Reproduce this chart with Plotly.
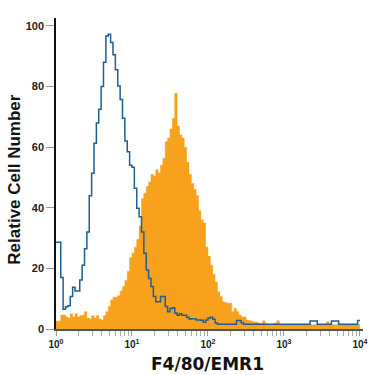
import numpy as np
import plotly.graph_objects as go

# 128 log-spaced channels over 10^0 .. 10^4
n_bins = 128
decades = 4.0

# Blue (isotype/control) histogram, relative cell number per channel
control_counts = [
    28.6, 28.6, 17.0, 6.5, 7.3, 7.7, 10.7, 13.8, 12.5, 12.5,
    16.2, 21.0, 26.5, 32.0, 44.0, 51.4, 61.3, 68.0, 72.5, 80.0,
    88.0, 96.7, 97.2, 94.5, 90.5, 85.5, 80.2, 75.7, 69.5, 62.0,
    58.5, 54.0, 53.4, 46.4, 39.8, 37.0, 32.0, 25.0, 19.5, 16.7,
    14.0, 10.7, 9.0, 9.0, 10.7, 10.7, 7.4, 5.7, 6.8, 7.0,
    5.3, 4.5, 5.0, 4.5, 4.5, 3.9, 3.3, 3.4, 3.4, 3.0,
    3.0, 2.9, 2.2, 3.0, 3.6, 3.9, 3.2, 2.0, 1.6, 1.6,
    1.6, 1.6, 1.6, 1.6, 1.6, 1.6, 2.8, 2.8, 2.0, 1.6,
    1.6, 1.6, 1.6, 1.6, 1.6, 1.6, 1.6, 1.6, 1.6, 1.6,
    1.6, 1.6, 1.6, 1.6, 1.6, 1.6, 1.6, 1.6, 1.6, 1.6,
    1.6, 1.6, 1.6, 1.6, 1.6, 1.6, 1.6, 2.6, 2.6, 2.6,
    1.6, 1.6, 1.6, 1.6, 1.6, 1.6, 2.6, 2.6, 2.6, 1.6,
    1.6, 1.6, 1.6, 1.6, 1.6, 1.6, 1.6, 2.8,
]

# Orange (F4/80 stained) histogram
stained_counts = [
    2.6, 2.6, 4.6, 4.6, 4.0, 3.6, 5.0, 4.0, 5.0, 4.0,
    4.4, 4.6, 5.7, 3.6, 3.3, 4.4, 3.6, 4.4, 3.3, 3.0,
    4.4, 5.7, 7.4, 9.6, 10.5, 10.5, 11.0, 12.5, 14.0, 16.0,
    19.0, 23.5, 25.0, 27.0, 29.5, 34.0, 43.0, 44.8, 47.0, 48.5,
    51.0, 50.5, 52.5, 51.5, 54.0, 56.3, 61.8, 63.0, 66.0, 69.5,
    77.8, 67.0, 64.0, 63.0, 60.0, 55.0, 51.0, 48.0, 46.0, 44.0,
    39.0, 36.0, 35.0, 27.0, 24.0, 21.0, 18.0, 15.5, 12.3, 10.7,
    9.0, 8.7, 8.5, 8.5, 5.7, 6.8, 5.7, 4.6, 4.0, 4.0,
    3.0, 2.7, 2.6, 2.3, 2.3, 2.0, 1.8, 2.7, 1.8, 1.6,
    1.6, 1.6, 2.0, 2.7, 1.4, 1.4, 1.4, 1.4, 1.4, 1.4,
    1.4, 1.4, 1.4, 1.4, 1.4, 1.4, 1.4, 1.4, 1.4, 1.4,
    1.4, 1.4, 1.4, 1.4, 2.4, 1.4, 1.4, 1.4, 1.4, 1.4,
    1.4, 1.4, 1.4, 1.4, 1.4, 1.4, 1.4, 1.4,
]

x_tick_vals = [1, 10, 100, 1000, 10000]
x_tick_text = ["10<sup>0</sup>", "10<sup>1</sup>", "10<sup>2</sup>", "10<sup>3</sup>", "10<sup>4</sup>"]
y_tick_vals = [0, 20, 40, 60, 80, 100]
x_title = "F4/80/EMR1"
y_title = "Relative Cell Number"

edges = 10 ** (np.arange(n_bins + 1) * decades / n_bins)

def step(vals):
    return list(vals) + [vals[-1]]

minor_tick_vals = [m * 10 ** d for d in range(4) for m in range(2, 10)]

fig = go.Figure()
fig.add_trace(go.Scatter(
    x=edges, y=step(stained_counts), mode="lines", line_shape="hv",
    line=dict(color="#F7A11C", width=0.5), fill="tozeroy", fillcolor="#F7A11C",
    hoverinfo="skip", showlegend=False))
fig.add_trace(go.Scatter(
    x=edges, y=step(control_counts), mode="lines", line_shape="hv",
    line=dict(color="#1f5e93", width=1.5), hoverinfo="skip", showlegend=False))

fig.update_layout(
    width=375, height=375,
    margin=dict(l=56, r=12, t=18, b=46, autoexpand=False),
    paper_bgcolor="white", plot_bgcolor="white",
    font=dict(family="Liberation Sans, Arial, sans-serif", color="#222"),
    annotations=[
        dict(text=x_title, xref="paper", yref="paper", x=0.492, y=-0.111,
             xanchor="center", yanchor="middle", showarrow=False,
             font=dict(family="DejaVu Sans", size=17, weight="bold", color="#111")),
        dict(text=y_title, xref="paper", yref="paper", x=-0.138, y=0.479,
             xanchor="center", yanchor="middle", showarrow=False, textangle=-90,
             font=dict(size=17, weight="bold", color="#111")),
    ],
)
fig.update_xaxes(
    type="log", range=[0, 4.04], automargin=False,
    tickmode="array", tickvals=x_tick_vals, ticktext=x_tick_text,
    ticks="outside", ticklen=5, tickcolor="#999", tickwidth=1,
    minor=dict(tickmode="array", tickvals=minor_tick_vals, ticks="outside",
               ticklen=5, tickcolor="#aaa", tickwidth=1, showgrid=False),
    tickfont=dict(size=10, weight="bold", color="#222"),
    showline=True, linecolor="#555", linewidth=1.5,
    showgrid=False, zeroline=False,
)
fig.update_yaxes(
    range=[0, 102.6], automargin=False,
    tickvals=y_tick_vals,
    ticks="outside", ticklen=8, tickcolor="#999", tickwidth=1,
    tickfont=dict(size=11, weight="bold", color="#222"),
    showline=True, linecolor="#111", linewidth=1.5,
    showgrid=False, zeroline=False,
)

fig.write_html("out.html", config={"displayModeBar": False},
               post_script="document.body.style.margin='0';")
